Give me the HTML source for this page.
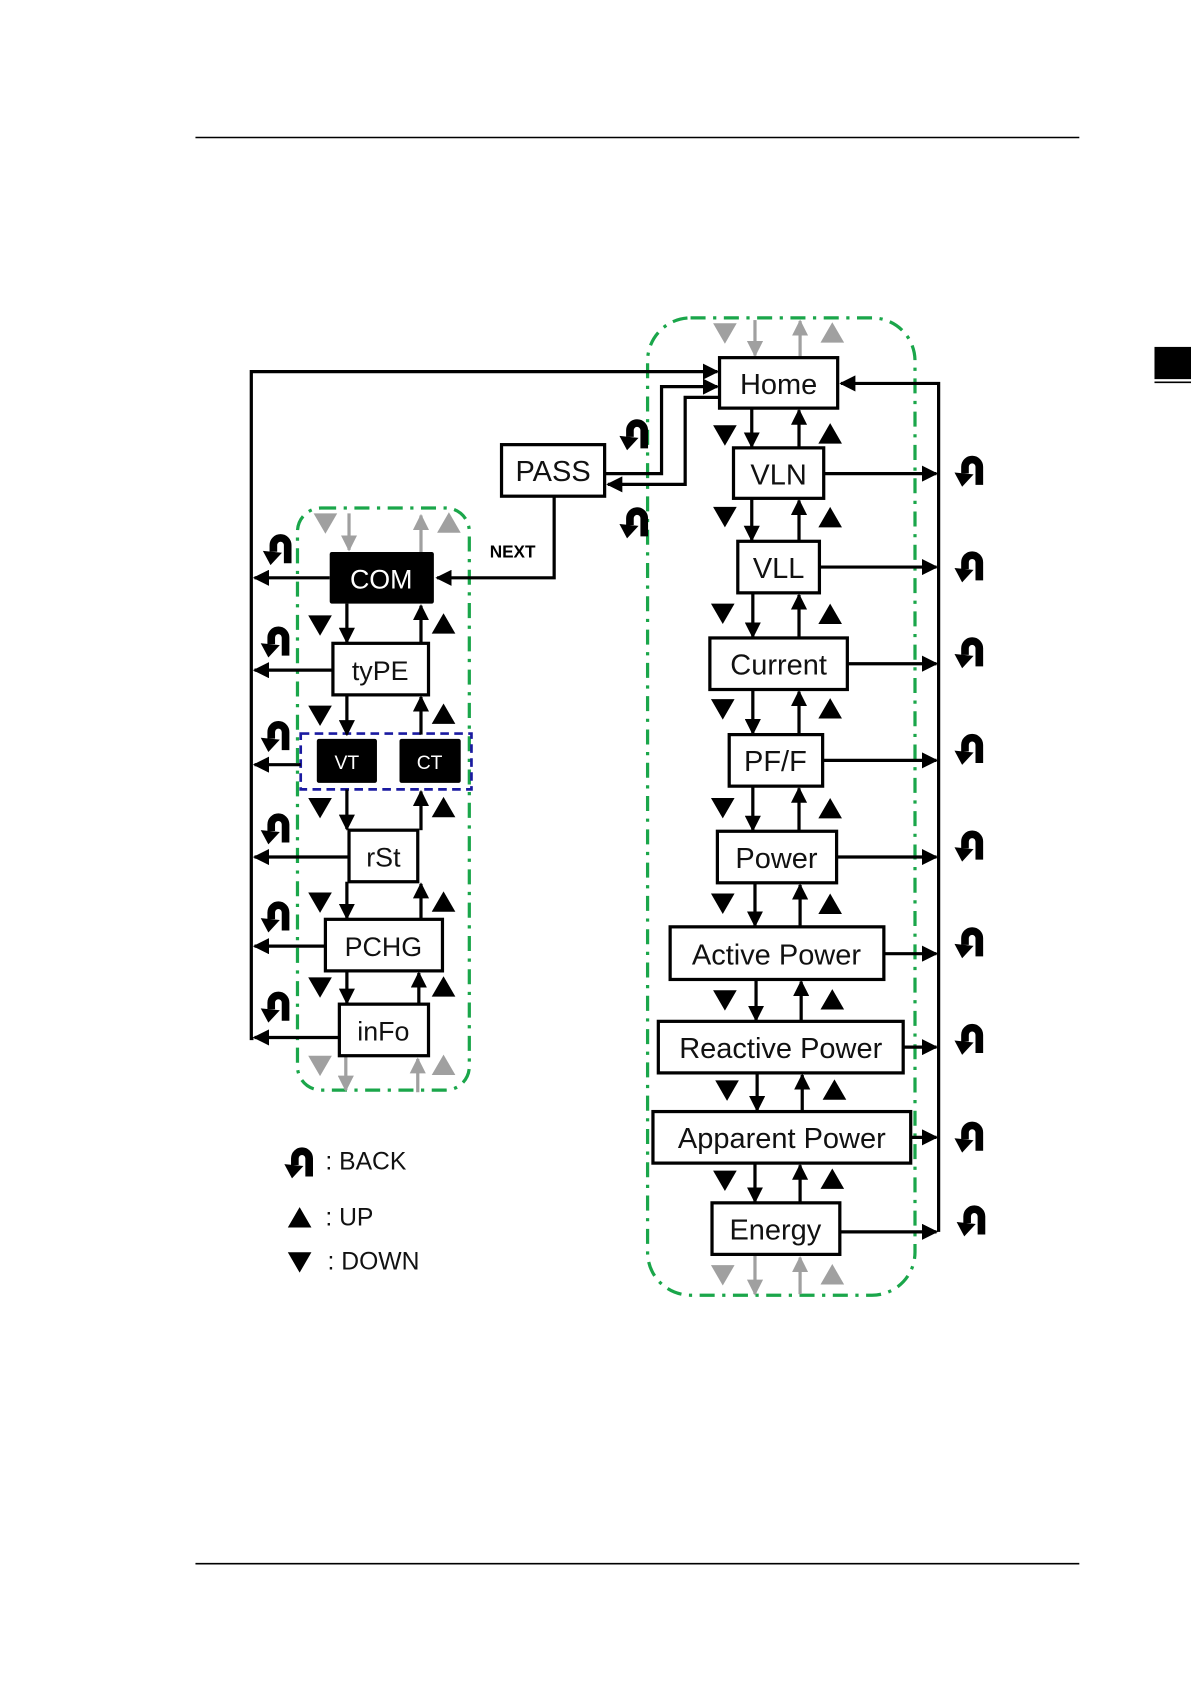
<!DOCTYPE html>
<html><head><meta charset="utf-8"><style>
html,body{margin:0;padding:0;background:#fff}
svg{display:block}
text{font-family:"Liberation Sans","DejaVu Sans",sans-serif}
</style></head><body>
<svg width="1191" height="1684" viewBox="0 0 1109 1568" xmlns="http://www.w3.org/2000/svg">
<defs>
<marker id="a" markerWidth="5" markerHeight="5" refX="4.5" refY="2.5" orient="auto" markerUnits="strokeWidth"><path d="M0,0 L5,2.5 L0,5 z" fill="#000"/></marker>
<marker id="g" markerWidth="5" markerHeight="5" refX="4.5" refY="2.5" orient="auto" markerUnits="strokeWidth"><path d="M0,0 L5,2.5 L0,5 z" fill="#a0a0a0"/></marker>
<symbol id="bk" viewBox="0 0 36 36" overflow="visible">
<path d="M13 20 V13 A7.5 7.5 0 0 1 28 13 V32" fill="none" stroke="#000" stroke-width="8"/>
<polygon points="2,19 22,21 10,34" fill="#000"/>
</symbol>
</defs>
<line x1="182" y1="128" x2="1005" y2="128" stroke="#000" stroke-width="1.5"/>
<line x1="182" y1="1456" x2="1005" y2="1456" stroke="#000" stroke-width="1.5"/>
<rect x="1075" y="323" width="34" height="30" fill="#000"/>
<line x1="1075" y1="356" x2="1109" y2="356" stroke="#000" stroke-width="1.5"/>

<!-- green groups -->
<rect x="603" y="296" width="249" height="910" rx="40" fill="none" stroke="#1aa64a" stroke-width="3" stroke-dasharray="14,7,3,7"/>
<rect x="277" y="473" width="160" height="542" rx="22" fill="none" stroke="#1aa64a" stroke-width="3" stroke-dasharray="14,7,3,7"/>
<rect x="280" y="683" width="159" height="52" fill="none" stroke="#1a1aa0" stroke-width="2.5" stroke-dasharray="8,5"/>

<g stroke="#000" stroke-width="3" fill="none">
<!-- left loop -->
<polyline points="236,967 234,967 234,346 668,346" marker-end="url(#a)"/>
<!-- PASS -->
<polyline points="563,441 616,441 616,360 668,360" marker-end="url(#a)"/>
<polyline points="670,370 638,370 638,451 566,451" marker-end="url(#a)"/>
<polyline points="516,462 516,538 407,538" marker-end="url(#a)"/>
<!-- right bus -->
<polyline points="874,1147 874,357 783,357" marker-end="url(#a)"/>
<line x1="767" y1="441" x2="872" y2="441" marker-end="url(#a)"/>
<line x1="763" y1="528" x2="872" y2="528" marker-end="url(#a)"/>
<line x1="789" y1="618" x2="872" y2="618" marker-end="url(#a)"/>
<line x1="766" y1="708" x2="872" y2="708" marker-end="url(#a)"/>
<line x1="779" y1="798" x2="872" y2="798" marker-end="url(#a)"/>
<line x1="823" y1="888" x2="872" y2="888" marker-end="url(#a)"/>
<line x1="841" y1="975" x2="872" y2="975" marker-end="url(#a)"/>
<line x1="848" y1="1059" x2="872" y2="1059" marker-end="url(#a)"/>
<line x1="782" y1="1147" x2="872" y2="1147" marker-end="url(#a)"/>
<!-- right verticals -->
<line x1="700" y1="380" x2="700" y2="416" marker-end="url(#a)"/><line x1="744" y1="417" x2="744" y2="382" marker-end="url(#a)"/>
<line x1="700" y1="464" x2="700" y2="503" marker-end="url(#a)"/><line x1="744" y1="504" x2="744" y2="466" marker-end="url(#a)"/>
<line x1="701" y1="552" x2="701" y2="593" marker-end="url(#a)"/><line x1="744" y1="594" x2="744" y2="554" marker-end="url(#a)"/>
<line x1="701" y1="642" x2="701" y2="683" marker-end="url(#a)"/><line x1="744" y1="684" x2="744" y2="644" marker-end="url(#a)"/>
<line x1="701" y1="732" x2="701" y2="773" marker-end="url(#a)"/><line x1="744" y1="774" x2="744" y2="734" marker-end="url(#a)"/>
<line x1="703" y1="822" x2="703" y2="862" marker-end="url(#a)"/><line x1="745" y1="863" x2="745" y2="824" marker-end="url(#a)"/>
<line x1="704" y1="912" x2="704" y2="950" marker-end="url(#a)"/><line x1="746" y1="951" x2="746" y2="914" marker-end="url(#a)"/>
<line x1="705" y1="999" x2="705" y2="1034" marker-end="url(#a)"/><line x1="747" y1="1035" x2="747" y2="1001" marker-end="url(#a)"/>
<line x1="703" y1="1083" x2="703" y2="1119" marker-end="url(#a)"/><line x1="745" y1="1120" x2="745" y2="1085" marker-end="url(#a)"/>
<!-- left arrows -->
<line x1="307" y1="538" x2="237" y2="538" marker-end="url(#a)"/>
<line x1="310" y1="624" x2="237" y2="624" marker-end="url(#a)"/>
<line x1="280" y1="712" x2="237" y2="712" marker-end="url(#a)"/>
<line x1="325" y1="798" x2="237" y2="798" marker-end="url(#a)"/>
<line x1="303" y1="881" x2="237" y2="881" marker-end="url(#a)"/>
<line x1="316" y1="966" x2="237" y2="966" marker-end="url(#a)"/>
<!-- left verticals -->
<line x1="323" y1="562" x2="323" y2="598" marker-end="url(#a)"/><line x1="392" y1="599" x2="392" y2="564" marker-end="url(#a)"/>
<line x1="323" y1="647" x2="323" y2="684" marker-end="url(#a)"/><line x1="392" y1="684" x2="392" y2="649" marker-end="url(#a)"/>
<line x1="323" y1="735" x2="323" y2="772" marker-end="url(#a)"/><line x1="392" y1="773" x2="392" y2="737" marker-end="url(#a)"/>
<line x1="323" y1="821" x2="323" y2="855" marker-end="url(#a)"/><line x1="392" y1="856" x2="392" y2="823" marker-end="url(#a)"/>
<line x1="323" y1="904" x2="323" y2="934" marker-end="url(#a)"/><line x1="390" y1="935" x2="390" y2="906" marker-end="url(#a)"/>
</g>
<!-- gray arrows -->
<g stroke="#a0a0a0" stroke-width="3">
<line x1="703" y1="298" x2="703" y2="331" marker-end="url(#g)"/><line x1="745" y1="333" x2="745" y2="299" marker-end="url(#g)"/>
<line x1="703" y1="1168" x2="703" y2="1205" marker-end="url(#g)"/><line x1="745" y1="1205" x2="745" y2="1171" marker-end="url(#g)"/>
<line x1="325" y1="478" x2="325" y2="512" marker-end="url(#g)"/><line x1="392" y1="514" x2="392" y2="480" marker-end="url(#g)"/>
<line x1="322" y1="983" x2="322" y2="1015" marker-end="url(#g)"/><line x1="389" y1="1017" x2="389" y2="986" marker-end="url(#g)"/>
</g>
<g fill="#a0a0a0">
<polygon points="664,301 686,301 675,320"/><polygon points="764,319 786,319 775,300"/>
<polygon points="662,1178 684,1178 673,1197"/><polygon points="764,1196 786,1196 775,1177"/>
<polygon points="292,478 314,478 303,497"/><polygon points="407,496 429,496 418,477"/>
<polygon points="287,983 309,983 298,1002"/><polygon points="402,1001 424,1001 413,982"/>
</g>
<!-- black triangles -->
<g fill="#000">
<polygon points="664,396 686,396 675,415"/><polygon points="762,413 784,413 773,394"/>
<polygon points="664,472 686,472 675,491"/><polygon points="762,491 784,491 773,472"/>
<polygon points="662,562 684,562 673,581"/><polygon points="762,581 784,581 773,562"/>
<polygon points="662,651 684,651 673,670"/><polygon points="762,669 784,669 773,650"/>
<polygon points="662,743 684,743 673,762"/><polygon points="762,762 784,762 773,743"/>
<polygon points="662,832 684,832 673,851"/><polygon points="762,851 784,851 773,832"/>
<polygon points="664,922 686,922 675,941"/><polygon points="764,940 786,940 775,921"/>
<polygon points="666,1006 688,1006 677,1025"/><polygon points="766,1024 788,1024 777,1005"/>
<polygon points="664,1090 686,1090 675,1109"/><polygon points="764,1107 786,1107 775,1088"/>
<polygon points="287,573 309,573 298,592"/><polygon points="402,590 424,590 413,571"/>
<polygon points="287,657 309,657 298,676"/><polygon points="402,674 424,674 413,655"/>
<polygon points="287,743 309,743 298,762"/><polygon points="402,761 424,761 413,742"/>
<polygon points="287,831 309,831 298,850"/><polygon points="402,849 424,849 413,830"/>
<polygon points="287,910 309,910 298,929"/><polygon points="402,928 424,928 413,909"/>
<polygon points="268,1143 290,1143 279,1124"/><polygon points="268,1166 290,1166 279,1185"/>
</g>
<!-- back icons -->
<use href="#bk" x="574" y="389" width="34" height="32"/>
<use href="#bk" x="574" y="471" width="34" height="32"/>
<use href="#bk" x="886" y="423" width="34" height="32"/>
<use href="#bk" x="886" y="512" width="34" height="32"/>
<use href="#bk" x="886" y="592" width="34" height="32"/>
<use href="#bk" x="886" y="682" width="34" height="32"/>
<use href="#bk" x="886" y="772" width="34" height="32"/>
<use href="#bk" x="886" y="862" width="34" height="32"/>
<use href="#bk" x="886" y="952" width="34" height="32"/>
<use href="#bk" x="886" y="1043" width="34" height="32"/>
<use href="#bk" x="888" y="1121" width="34" height="32"/>
<use href="#bk" x="242" y="496" width="34" height="32"/>
<use href="#bk" x="240" y="582" width="34" height="32"/>
<use href="#bk" x="240" y="670" width="34" height="32"/>
<use href="#bk" x="240" y="756" width="34" height="32"/>
<use href="#bk" x="240" y="838" width="34" height="32"/>
<use href="#bk" x="240" y="922" width="34" height="32"/>
<use href="#bk" x="262" y="1067" width="34" height="32"/>
<!-- boxes -->
<g fill="#fff" stroke="#000" stroke-width="3">
<rect x="670" y="333" width="110" height="47"/>
<rect x="683" y="417" width="84" height="47"/>
<rect x="687" y="504" width="76" height="48"/>
<rect x="661" y="594" width="128" height="48"/>
<rect x="679" y="684" width="87" height="48"/>
<rect x="668" y="774" width="111" height="48"/>
<rect x="624" y="863" width="199" height="49"/>
<rect x="613" y="951" width="228" height="48"/>
<rect x="608" y="1035" width="240" height="48"/>
<rect x="663" y="1120" width="119" height="48"/>
<rect x="467" y="414" width="96" height="48"/>
<rect x="310" y="599" width="89" height="48"/>
<rect x="325" y="773" width="64" height="48"/>
<rect x="303" y="856" width="109" height="48"/>
<rect x="316" y="935" width="83" height="48"/>
</g>
<g fill="#000">
<rect x="307" y="514" width="97" height="48" rx="2"/>
<rect x="295" y="688" width="56" height="41" rx="2"/>
<rect x="372" y="688" width="57" height="41" rx="2"/>
</g>
<g font-size="27" text-anchor="middle" fill="#111">
<text x="725" y="367">Home</text>
<text x="725" y="451">VLN</text>
<text x="725" y="538">VLL</text>
<text x="725" y="628">Current</text>
<text x="722" y="718">PF/F</text>
<text x="723" y="808">Power</text>
<text x="723" y="898">Active Power</text>
<text x="727" y="985">Reactive Power</text>
<text x="728" y="1069">Apparent Power</text>
<text x="722" y="1154">Energy</text>
<text x="515" y="448">PASS</text>
</g>
<g font-size="25" text-anchor="middle" fill="#111">
<text x="355" y="548" fill="#fff">COM</text>
<text x="354" y="633">tyPE</text>
<text x="357" y="807">rSt</text>
<text x="357" y="890">PCHG</text>
<text x="357" y="969">inFo</text>
</g>
<text x="323" y="716" font-size="18" fill="#fff" text-anchor="middle">VT</text>
<text x="400" y="716" font-size="18" fill="#fff" text-anchor="middle">CT</text>
<text x="456" y="519" font-size="16" font-weight="bold">NEXT</text>
<g font-size="23" fill="#111">
<text x="303" y="1089">: BACK</text>
<text x="303" y="1141">: UP</text>
<text x="305" y="1182">: DOWN</text>
</g>
</svg>
</body></html>
